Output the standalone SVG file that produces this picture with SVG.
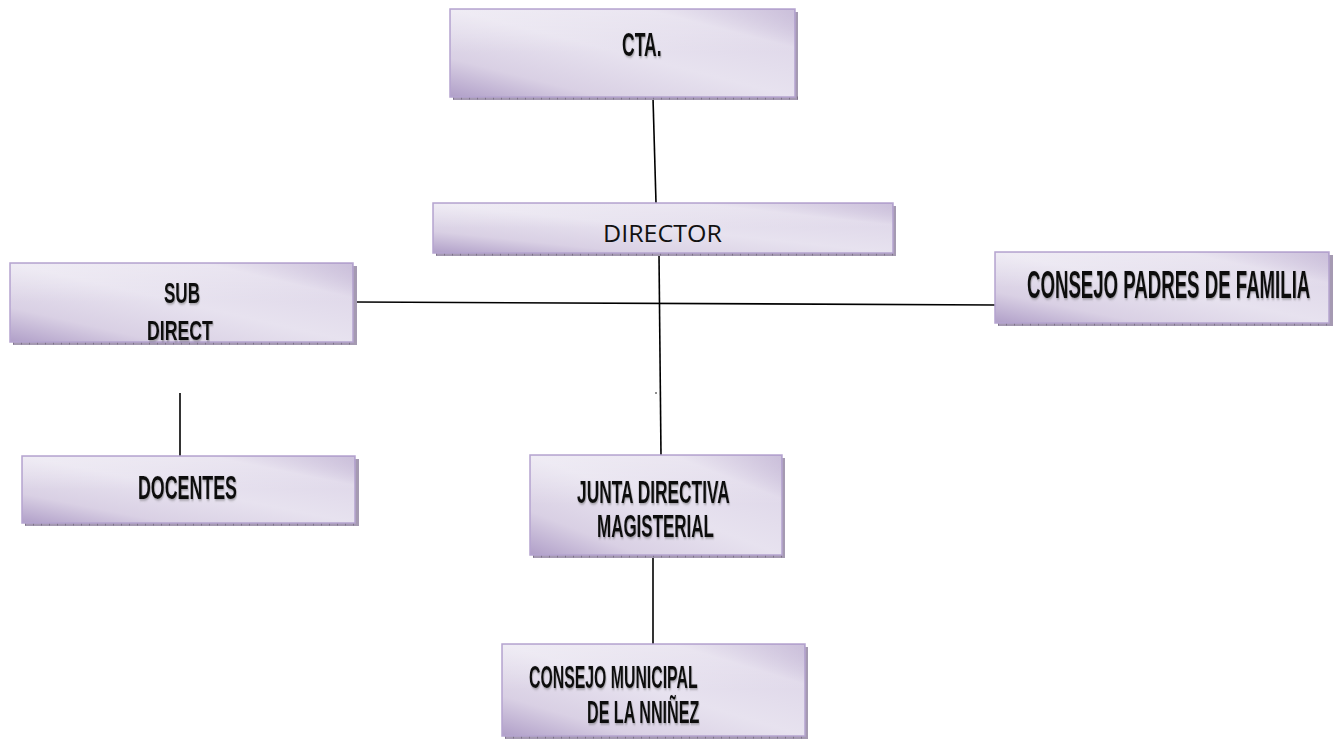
<svg xmlns="http://www.w3.org/2000/svg" width="1335" height="744" viewBox="0 0 1335 744">
<defs>
<linearGradient id="g" x1="0" y1="1" x2="1" y2="0">
<stop offset="0" stop-color="#b09fc8"/>
<stop offset="0.22" stop-color="#d9d0e4"/>
<stop offset="0.5" stop-color="#e7e2ef"/>
<stop offset="0.78" stop-color="#e0d9ea"/>
<stop offset="1" stop-color="#ae9cc6"/>
</linearGradient>
<linearGradient id="hl" x1="0" y1="0" x2="0" y2="1">
<stop offset="0" stop-color="#ffffff" stop-opacity="0.35"/>
<stop offset="0.5" stop-color="#ffffff" stop-opacity="0"/>
</linearGradient>
<filter id="ts" x="-5%" y="-20%" width="112%" height="150%">
<feDropShadow dx="1.2" dy="1.5" stdDeviation="0.8" flood-color="#555" flood-opacity="0.5"/>
</filter>
</defs>
<style>
.box{fill:url(#g);stroke:#b5a4cf;stroke-width:1.5}
.hi{fill:url(#hl)}
.sh{fill:#a59ab2}
.tick{stroke:#7d7388;stroke-width:3;stroke-dasharray:1 7;fill:none}
.t{font-family:"Liberation Sans",Arial,sans-serif;font-weight:bold;fill:#111;filter:url(#ts)}
.d{font-family:"Open Sans","Liberation Sans",sans-serif;fill:#111;font-size:23px}
.c{stroke:#000;stroke-width:1.6;fill:none}
</style>

<g id="connectors">
<line class="c" x1="653" y1="98" x2="656" y2="203"/>
<line class="c" x1="659" y1="255" x2="661" y2="456"/>
<line class="c" x1="356" y1="302" x2="995" y2="305"/>
<line class="c" x1="180" y1="393" x2="180" y2="456"/>
<line class="c" x1="653" y1="557" x2="653" y2="644"/>
<circle cx="656" cy="393" r="0.8" fill="#000"/>
</g>

<g id="cta">
<rect class="sh" x="453" y="96" width="345" height="4"/>
<rect class="sh" x="795" y="12" width="3" height="88"/>
<line class="tick" x1="453" y1="98" x2="798" y2="98"/>
<rect class="box" x="450" y="9" width="345" height="88"/>
<rect class="hi" x="451" y="10" width="343" height="86"/>
<text class="t" font-size="33" transform="translate(622,56) scale(0.532,1)">CTA.</text>
</g>

<g id="director">
<rect class="sh" x="436" y="252" width="460" height="4"/>
<rect class="sh" x="893" y="206" width="3" height="50"/>
<line class="tick" x1="436" y1="254" x2="896" y2="254"/>
<rect class="box" x="433" y="203" width="460" height="50"/>
<rect class="hi" x="434" y="204" width="458" height="48"/>
<text class="d" x="603" y="242" textLength="119" lengthAdjust="spacingAndGlyphs">DIRECTOR</text>
</g>

<g id="subdirect">
<rect class="sh" x="13" y="341" width="344" height="4"/>
<rect class="sh" x="353" y="266" width="4" height="79"/>
<line class="tick" x1="13" y1="343" x2="357" y2="343"/>
<rect class="box" x="10" y="263" width="343" height="79"/>
<rect class="hi" x="11" y="264" width="341" height="77"/>
<text class="t" font-size="29" transform="translate(164,303) scale(0.588,1)">SUB</text>
<text class="t" font-size="28" transform="translate(147,340) scale(0.633,1)">DIRECT</text>
</g>

<g id="docentes">
<rect class="sh" x="25" y="522" width="334" height="4"/>
<rect class="sh" x="355" y="459" width="4" height="67"/>
<line class="tick" x1="25" y1="524" x2="359" y2="524"/>
<rect class="box" x="22" y="456" width="333" height="67"/>
<rect class="hi" x="23" y="457" width="331" height="65"/>
<text class="t" font-size="33" transform="translate(138,499) scale(0.54,1)">DOCENTES</text>
</g>

<g id="consejo-padres">
<rect class="sh" x="998" y="322" width="335" height="4"/>
<rect class="sh" x="1329" y="255" width="4" height="71"/>
<line class="tick" x1="998" y1="324" x2="1333" y2="324"/>
<rect class="box" x="995" y="252" width="334" height="71"/>
<rect class="hi" x="996" y="253" width="332" height="69"/>
<text class="t" font-size="39" transform="translate(1027,298) scale(0.478,1)">CONSEJO PADRES DE FAMILIA</text>
</g>

<g id="junta">
<rect class="sh" x="533" y="554" width="252" height="4"/>
<rect class="sh" x="782" y="458" width="3" height="100"/>
<line class="tick" x1="533" y1="556" x2="785" y2="556"/>
<rect class="box" x="530" y="455" width="252" height="100"/>
<rect class="hi" x="531" y="456" width="250" height="98"/>
<text class="t" font-size="32" transform="translate(577,503) scale(0.542,1)">JUNTA DIRECTIVA</text>
<text class="t" font-size="31" transform="translate(597,537) scale(0.548,1)">MAGISTERIAL</text>
</g>

<g id="consejo-municipal">
<rect class="sh" x="505" y="735" width="303" height="4"/>
<rect class="sh" x="805" y="647" width="3" height="92"/>
<line class="tick" x1="505" y1="737" x2="808" y2="737"/>
<rect class="box" x="502" y="644" width="303" height="92"/>
<rect class="hi" x="503" y="645" width="301" height="90"/>
<text class="t" font-size="32" transform="translate(529,688) scale(0.495,1)">CONSEJO MUNICIPAL</text>
<text class="t" font-size="32" transform="translate(587,723) scale(0.504,1)">DE LA NNIÑEZ</text>
</g>
</svg>
